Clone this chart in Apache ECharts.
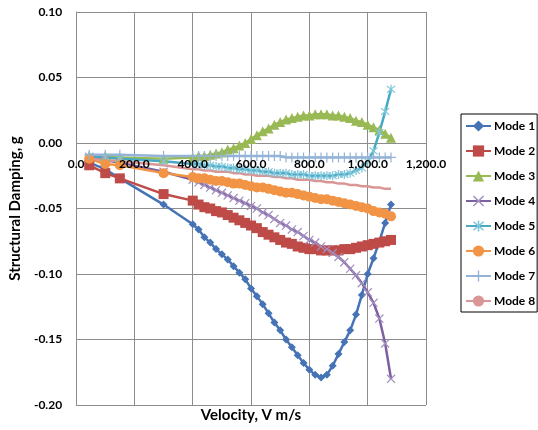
<!DOCTYPE html>
<html>
<head>
<meta charset="utf-8">
<script src="https://cdn.jsdelivr.net/npm/echarts@6/dist/echarts.min.js"></script>
<style>html,body{margin:0;padding:0;background:#fff;}#c{width:538px;height:430px;}</style>
</head>
<body>
<div id="c"></div>
<script>
var velocity = [45,100,150,300,400,420,440,460,480,500,520,540,560,580,600,620,640,660,680,700,720,740,760,780,800,820,840,860,880,900,920,940,960,980,1000,1020,1040,1060,1080];
var mode1 = [-0.015,-0.020,-0.027,-0.047,-0.062,-0.066,-0.072,-0.076,-0.081,-0.085,-0.089,-0.094,-0.099,-0.104,-0.111,-0.117,-0.123,-0.130,-0.137,-0.143,-0.150,-0.156,-0.162,-0.168,-0.173,-0.177,-0.179,-0.177,-0.170,-0.161,-0.152,-0.143,-0.131,-0.116,-0.100,-0.088,-0.075,-0.061,-0.047];
var mode2 = [-0.017,-0.023,-0.027,-0.039,-0.044,-0.047,-0.049,-0.050,-0.052,-0.053,-0.055,-0.057,-0.059,-0.061,-0.063,-0.065,-0.068,-0.070,-0.072,-0.074,-0.076,-0.077,-0.079,-0.080,-0.081,-0.081,-0.082,-0.082,-0.082,-0.082,-0.081,-0.081,-0.080,-0.079,-0.078,-0.077,-0.076,-0.075,-0.074];
var mode3 = [-0.010,-0.010,-0.011,-0.012,-0.011,-0.010,-0.010,-0.009,-0.008,-0.007,-0.005,-0.004,-0.002,0.000,0.003,0.006,0.009,0.011,0.014,0.016,0.018,0.019,0.020,0.021,0.021,0.022,0.022,0.022,0.021,0.021,0.020,0.019,0.017,0.016,0.014,0.012,0.010,0.007,0.004];
var mode4 = [-0.011,-0.013,-0.015,-0.022,-0.028,-0.030,-0.032,-0.034,-0.036,-0.038,-0.040,-0.042,-0.044,-0.046,-0.048,-0.050,-0.053,-0.055,-0.058,-0.061,-0.063,-0.066,-0.068,-0.071,-0.074,-0.076,-0.079,-0.081,-0.084,-0.087,-0.091,-0.096,-0.101,-0.107,-0.114,-0.122,-0.134,-0.153,-0.180];
var mode5 = [-0.010,-0.011,-0.012,-0.014,-0.016,-0.016,-0.017,-0.017,-0.018,-0.018,-0.019,-0.019,-0.020,-0.020,-0.021,-0.021,-0.022,-0.022,-0.023,-0.023,-0.023,-0.024,-0.024,-0.024,-0.025,-0.025,-0.025,-0.025,-0.025,-0.024,-0.024,-0.023,-0.021,-0.019,-0.014,-0.006,0.008,0.024,0.041];
var mode6 = [-0.012,-0.016,-0.017,-0.023,-0.026,-0.027,-0.027,-0.028,-0.029,-0.029,-0.030,-0.031,-0.031,-0.032,-0.033,-0.034,-0.034,-0.035,-0.036,-0.037,-0.038,-0.038,-0.039,-0.040,-0.041,-0.042,-0.043,-0.043,-0.044,-0.045,-0.046,-0.047,-0.048,-0.049,-0.050,-0.052,-0.053,-0.054,-0.056];
var mode7 = [-0.009,-0.009,-0.009,-0.010,-0.010,-0.010,-0.010,-0.010,-0.010,-0.010,-0.010,-0.010,-0.010,-0.010,-0.010,-0.010,-0.010,-0.010,-0.010,-0.010,-0.011,-0.011,-0.011,-0.011,-0.011,-0.011,-0.011,-0.011,-0.011,-0.011,-0.011,-0.011,-0.011,-0.011,-0.011,-0.011,-0.011,-0.011,-0.011];
var mode8 = [-0.012,-0.013,-0.014,-0.017,-0.020,-0.020,-0.021,-0.021,-0.022,-0.022,-0.022,-0.023,-0.023,-0.024,-0.024,-0.025,-0.025,-0.025,-0.026,-0.026,-0.027,-0.027,-0.028,-0.028,-0.028,-0.029,-0.029,-0.030,-0.030,-0.031,-0.031,-0.032,-0.032,-0.033,-0.033,-0.034,-0.034,-0.035,-0.035];
var seriesNames = ['Mode 1','Mode 2','Mode 3','Mode 4','Mode 5','Mode 6','Mode 7','Mode 8'];
var xTickLabels = ['0.0','200.0','400.0','600.0','800.0','1,000.0','1,200.0'];
var yTickLabels = ['-0.20','-0.15','-0.10','-0.05','0.00','0.05','0.10'];
var yMin = -0.2, yMax = 0.1;

var FONT = 'Lato';
var crossPlus = 'path://M-0.6,-5h1.2v10h-1.2z M-5,-0.6h10v1.2h-10z';
var crossX = 'path://M-4.2,-3.4L-3.4,-4.2L4.2,3.4L3.4,4.2z M3.4,-4.2L4.2,-3.4L-3.4,4.2L-4.2,3.4z';
var star = 'path://M-0.6,-5h1.2v10h-1.2z M-4.2,-3.4L-3.4,-4.2L4.2,3.4L3.4,4.2z M3.4,-4.2L4.2,-3.4L-3.4,4.2L-4.2,3.4z';

function zip(arr){ return velocity.map(function(v,i){ return [v, arr[i]]; }); }

var styles = [
  {data: mode1, line:'#4573B5', mark:'#4573B5', symbol:'diamond', size:8},
  {data: mode2, line:'#BE4B48', mark:'#BE4B48', symbol:'rect', size:10},
  {data: mode3, line:'#98B954', mark:'#98B954', symbol:'triangle', size:10},
  {data: mode4, line:'#7D60A0', mark:'#A48FC0', symbol:crossX, size:9},
  {data: mode5, line:'#46AAC5', mark:'#7FC6DA', symbol:star, size:9},
  {data: mode6, line:'#F29445', mark:'#F29445', symbol:'circle', size:10},
  {data: mode7, line:'#94B3D8', mark:'#94B3D8', symbol:crossPlus, size:10},
  {data: mode8, line:'#DA9695', mark:'#DA9695', symbol:'none', size:0}
];

var series = styles.map(function(s, i){
  return {
    name: seriesNames[i],
    type: 'line',
    xAxisIndex: 0,
    data: zip(s.data),
    symbol: s.symbol,
    symbolSize: s.size,
    showSymbol: s.symbol !== 'none',
    lineStyle: {color: s.line, width: 2.5},
    itemStyle: {color: s.mark, borderWidth: 0},
    emphasis: {disabled: true},
    animation: false
  };
});

var chart = echarts.init(document.getElementById('c'));
chart.setOption({
  backgroundColor: '#fff',
  animation: false,
  grid: {left: 72, right: 112, top: 12, bottom: 25, containLabel: false},
  title: {
    text: 'Velocity, V m/s', left: 246, top: 403, textAlign: 'center',
    textStyle: {fontFamily: FONT, fontWeight: 'bold', fontSize: 15, color: '#000'}
  },
  legend: {
    orient: 'vertical', left: 461, top: 114,
    padding: [6, 2, 5, 4],
    itemWidth: 25, itemHeight: 14, itemGap: 13,
    borderColor: '#000', borderWidth: 1,
    textStyle: {fontFamily: FONT, fontWeight: 'bold', fontSize: 12, color: '#000', padding: [0,0,0,-2]},
    data: seriesNames
  },
  xAxis: [{
    type: 'value', min: 0, max: 1200, interval: 200, position: 'top',
    axisLine: {show: false, onZero: false}, axisTick: {show: false}, axisLabel: {show: false},
    splitLine: {show: true, lineStyle: {color: '#8c8c8c', width: 1}}
  }, {
    type: 'value', min: 0, max: 1200, interval: 200, position: 'bottom', z: 10, offset: 0,
    axisLine: {show: false, onZero: false},
    axisTick: {show: false},
    splitLine: {show: false},
    axisLabel: {
      show: true, margin: 14, color: '#000', fontFamily: FONT, fontWeight: 'bold', fontSize: 12,
      showMinLabel: true, showMaxLabel: true,
      formatter: function(v){ return xTickLabels[Math.round(v/200)]; }
    }
  }],
  yAxis: {
    type: 'value', min: yMin, max: yMax, interval: 0.05,
    name: 'Structural Damping, g', nameLocation: 'middle', nameGap: 48, nameRotate: 90,
    nameTextStyle: {fontFamily: FONT, fontWeight: 'bold', fontSize: 15, color: '#000'},
    axisLine: {show: true, onZero: false, lineStyle: {color: '#8c8c8c'}}, axisTick: {show: false},
    axisLabel: {
      margin: 14, color: '#000', fontFamily: FONT, fontWeight: 'bold', fontSize: 12,
      formatter: function(v){ return yTickLabels[Math.round((v - yMin)/0.05)]; }
    },
    splitLine: {show: true, lineStyle: {color: '#8c8c8c', width: 1}}
  },
  series: series
});
// place the label axis at y = 0 using the chart's own y scale
var pZero = chart.convertToPixel({yAxisIndex: 0}, 0);
var pMin = chart.convertToPixel({yAxisIndex: 0}, yMin);
chart.setOption({xAxis: [{}, {offset: -(pMin - pZero)}]});
</script>
</body>
</html>
